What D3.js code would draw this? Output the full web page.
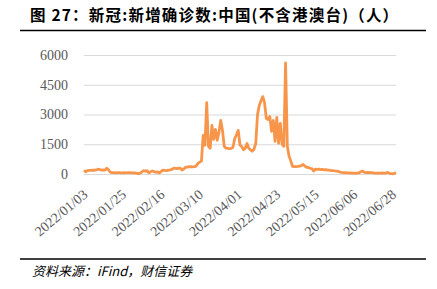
<!DOCTYPE html>
<html>
<head>
<meta charset="utf-8">
<script src="https://cdn.jsdelivr.net/npm/d3@7"></script>
<style>
  body { margin: 0; background: #fff; }
</style>
</head>
<body>
<div id="output"></div>
<script>
// daily new confirmed cases, 2022/01/03 .. 2022/06/30
var startDate = '2022/01/03';
var values = [
  190, 110, 175, 180, 185, 195, 190, 205, 240, 225,
  200, 210, 195, 290, 210, 90, 70, 65, 60, 65,
  70, 60, 55, 65, 60, 70, 65, 60, 55, 50,
  45, 10, 40, 100, 170, 140, 170, 60, 110, 150,
  120, 85, 110, 50, 130, 200, 180, 170, 190, 200,
  230, 280, 290, 270, 300, 290, 200, 260, 340, 350,
  370, 365, 360, 370, 400, 540, 600, 650, 1950, 1450,
  3600, 1400, 1300, 2450, 1750, 2250, 1700, 2100, 2700, 2200,
  1400, 1300, 1290, 1280, 1290, 1350, 1800, 1970, 2200, 1450,
  1380, 1220, 1300, 1540, 1300, 1220, 1150, 1250, 1550, 3000,
  3450, 3700, 3900, 3600, 2800, 2750, 2900, 2150, 2700, 1650,
  2850, 1550, 2550, 1500, 1400, 5600, 1400, 900, 650, 380,
  370, 370, 380, 400, 420, 480, 400, 340, 330, 290,
  270, 150, 250, 230, 240, 220, 230, 210, 220, 200,
  190, 170, 175, 160, 150, 130, 100, 80, 70, 70,
  60, 55, 50, 45, 40, 45, 50, 60, 110, 150,
  80, 70, 75, 65, 70, 60, 45, 40, 45, 40,
  50, 45, 40, 80, 50, 15, 10, 30, 70
];
var xTickLabels = ['2022/01/03', '2022/01/25', '2022/02/16', '2022/03/10', '2022/04/01',
                   '2022/04/23', '2022/05/15', '2022/06/06', '2022/06/28'];
var yTicks = [0, 1500, 3000, 4500, 6000];

var w = 437, h = 289;
var plotLeft = 84, plotRight = 396, plotTop = 55, plotBottom = 174;

var parse = d3.timeParse('%Y/%m/%d');
var fmt = d3.timeFormat('%Y/%m/%d');
var start = parse(startDate);
var dates = values.map(function(v, i) { return d3.timeDay.offset(start, i); });

var svg = d3.select('#output').append('svg')
  .attr('width', w)
  .attr('height', h)
  .style('background', '#fff');

// title + rules
svg.append('text')
  .attr('x', 30).attr('y', 21)
  .style('font-family', '"Noto Sans CJK SC", sans-serif')
  .style('font-weight', 'bold')
  .style('font-size', '15.5px')
  .style('letter-spacing', '1.2px')
  .attr('fill', '#000')
  .text('图 27：新冠:新增确诊数:中国(不含港澳台)（人）');

svg.append('line').attr('x1', 20).attr('x2', 426).attr('y1', 30.5).attr('y2', 30.5)
  .attr('stroke', '#000').attr('stroke-width', 1.3);
svg.append('line').attr('x1', 20).attr('x2', 426).attr('y1', 259).attr('y2', 259)
  .attr('stroke', '#000').attr('stroke-width', 1.3);

svg.append('text')
  .attr('x', 32).attr('y', 276)
  .style('font-family', '"Noto Sans CJK SC", sans-serif')
  .style('font-style', 'italic')
  .style('font-size', '13px')
  .attr('fill', '#000')
  .text('资料来源：iFind，财信证券');

var x = d3.scaleTime().domain([dates[0], dates[dates.length - 1]]).range([plotLeft, plotRight]);
var y = d3.scaleLinear().domain([0, 6000]).range([plotBottom, plotTop]);

// y axis with gridlines
var yAxis = svg.append('g')
  .attr('transform', 'translate(' + plotLeft + ',0)')
  .call(d3.axisLeft(y).tickValues(yTicks).tickFormat(d3.format('d'))
    .tickSize(-(plotRight - plotLeft)).tickPadding(16));
yAxis.select('.domain').remove();
yAxis.selectAll('line').attr('stroke', '#d9d9d9').attr('stroke-width', 1);
yAxis.selectAll('text')
  .style('font-family', '"Liberation Serif", "Times New Roman", serif')
  .style('font-size', '14px')
  .attr('fill', '#595959');

// x axis, rotated labels
var xAxis = svg.append('g')
  .attr('transform', 'translate(0,' + plotBottom + ')')
  .call(d3.axisBottom(x).tickValues(xTickLabels.map(parse)).tickSize(0).tickFormat(fmt));
xAxis.select('.domain').remove();
xAxis.selectAll('text')
  .style('font-family', '"Liberation Serif", "Times New Roman", serif')
  .style('font-size', '14px')
  .attr('fill', '#595959')
  .attr('text-anchor', 'end')
  .attr('y', 0).attr('dy', 0)
  .attr('transform', 'translate(4,22) rotate(-40)');

// the line
var line = d3.line()
  .x(function(d, i) { return x(dates[i]); })
  .y(function(d) { return y(d); });

svg.append('path')
  .datum(values)
  .attr('d', line)
  .attr('fill', 'none')
  .attr('stroke', '#f7964a')
  .attr('stroke-width', 2.8)
  .attr('stroke-linejoin', 'round');
</script>
</body>
</html>
